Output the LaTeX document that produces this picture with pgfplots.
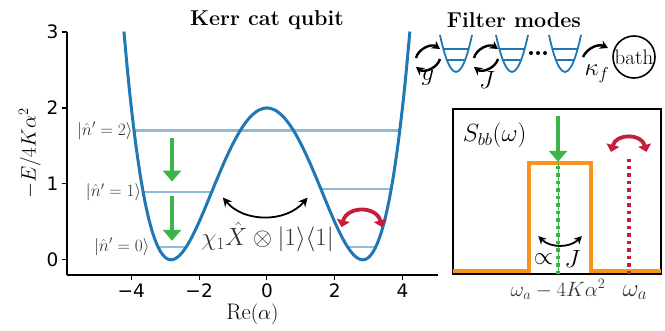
\documentclass[border=0pt]{standalone}
\usepackage{pgfplots}
\pgfplotsset{compat=1.18}
\usepackage{fontspec}
\usepackage{amsmath}
\usetikzlibrary{arrows.meta}
\newfontfamily\dejavu{DejaVu Sans}
\definecolor{cblue}{HTML}{1F77B4}
\definecolor{lblue}{HTML}{8FBBD9}
\definecolor{cgreen}{HTML}{3CB44B}
\definecolor{cred}{HTML}{C41E3A}
\definecolor{corange}{HTML}{F7941D}
\definecolor{lgray}{HTML}{333333}
\begin{document}
\begin{tikzpicture}[x=1pt,y=1pt]
\path (0,0) rectangle (665,330);
% ---------------- main axis ----------------
\begin{axis}[at={(67pt,55pt)}, anchor=south west, scale only axis,
  width=371pt, height=243pt,
  xmin=-5.9, xmax=5.05, ymin=-0.2, ymax=3,
  axis x line*=bottom, axis y line*=left,
  axis line style={line width=1.4pt, -},
  xtick={-4,-2,0,2,4}, xticklabels={−4,−2,0,2,4},
  ytick={0,1,2,3}, yticklabels={0,1,2,3},
  tick style={black, line width=1.2pt}, tick align=outside, major tick length=5pt,
  ticklabel style={font=\dejavu\fontsize{18.5}{22}\selectfont},
  xlabel={$\mathrm{Re}(\alpha)$}, ylabel={$-E/4K\alpha^2$},
  label style={font=\fontsize{22.5}{26}\selectfont},
  xlabel style={yshift=0pt}, ylabel style={yshift=-1pt},
  clip=false]
\addplot[lblue, line width=2.5pt] coordinates {(-3.921,1.70) (3.921,1.70)};
\addplot[lblue, line width=2.5pt] coordinates {(-3.647,0.89) (-1.636,0.89)};
\addplot[lblue, line width=2.5pt] coordinates {(1.595,0.93) (3.66,0.93)};
\addplot[lblue, line width=2.5pt] coordinates {(-3.214,0.17) (-2.381,0.17)};
\addplot[lblue, line width=2.5pt] coordinates {(2.381,0.17) (3.214,0.17)};
\addplot[cblue, line width=3pt, smooth] coordinates {
(-4.22,3.006) (-4.1,2.4255) (-4.0,2.0) (-3.875,1.5381) (-3.75,1.1486) (-3.625,0.8258)
(-3.5,0.5645) (-3.375,0.3593) (-3.25,0.2052) (-3.125,0.0974) (-3.0,0.0313) (-2.9,0.0053)
(-2.828,0) (-2.75,0.0060) (-2.625,0.0385) (-2.5,0.0957) (-2.375,0.1740) (-2.25,0.2697)
(-2.125,0.3794) (-2.0,0.5) (-1.875,0.6284) (-1.75,0.7618) (-1.5,1.0332) (-1.25,1.2950)
(-1.0,1.5313) (-0.75,1.7286) (-0.5,1.8770) (-0.25,1.9689) (0,2)
(0.25,1.9689) (0.5,1.8770) (0.75,1.7286) (1.0,1.5313) (1.25,1.2950) (1.5,1.0332)
(1.75,0.7618) (1.875,0.6284) (2.0,0.5) (2.125,0.3794) (2.25,0.2697) (2.375,0.1740)
(2.5,0.0957) (2.625,0.0385) (2.75,0.0060) (2.828,0) (2.9,0.0053) (3.0,0.0313)
(3.125,0.0974) (3.25,0.2052) (3.375,0.3593) (3.5,0.5645) (3.625,0.8258) (3.75,1.1486)
(3.875,1.5381) (4.0,2.0) (4.1,2.4255) (4.22,3.006)};
% level labels
\node[anchor=east, text=lgray, font=\fontsize{18.5}{22}\selectfont, inner sep=1pt] at (axis cs:-3.93,1.70) {$|\hat n'=2\rangle$};
\node[anchor=east, text=lgray, font=\fontsize{18.5}{22}\selectfont, inner sep=1pt] at (axis cs:-3.67,0.89) {$|\hat n'=1\rangle$};
\node[anchor=east, text=lgray, font=\fontsize{18.5}{22}\selectfont, inner sep=1pt] at (axis cs:-3.43,0.17) {$|\hat n'=0\rangle$};
% green arrows
\draw[cgreen, line width=3.2pt, -{Triangle[width=18pt,length=11pt]}] (axis cs:-2.8,1.6) -- (axis cs:-2.8,1.03);
\draw[cgreen, line width=3.2pt, -{Triangle[width=18pt,length=11pt]}] (axis cs:-2.8,0.84) -- (axis cs:-2.8,0.25);
% black tunnelling arrow
\draw[black, line width=1.8pt, {Stealth[length=9pt,width=9pt]}-{Stealth[length=9pt,width=9pt]}] (axis cs:-1.3,0.82) to[bend right=50] (axis cs:1.2,0.82);
\node[text=lgray, font=\fontsize{25}{28}\selectfont] at (axis cs:0.02,0.3) {$\chi_1\hat X\otimes|1\rangle\langle1|$};
% red arrow
\draw[cred, line width=3.8pt, {Triangle[width=13pt,length=7pt]}-{Triangle[width=13pt,length=7pt]}] (axis cs:2.2,0.43) to[out=75,in=105,looseness=1.4] (axis cs:3.4,0.43);
\end{axis}
\node[font=\bfseries\fontsize{21.5}{24}\selectfont] at (267,310) {Kerr cat qubit};
% ---------------- filter schematic ----------------
\node[font=\bfseries\fontsize{21.5}{24}\selectfont] at (514,310) {Filter modes};
\foreach \c in {456,512,565}{
  \draw[cblue, line width=1.8pt] (\c-16,295) parabola bend (\c,258) (\c+16,295);
  \draw[cblue, line width=1.4pt] (\c-12.5,281) -- (\c+12.5,281);
  \draw[cblue, line width=1.4pt] (\c-9,270) -- (\c+9,270);
}
\foreach \c in {428,486}{
  \draw[line width=2.4pt, -{Stealth[length=8pt,width=9pt]}] (\c-12,272) to[bend left=55] (\c+12,281);
  \draw[line width=2.4pt, -{Stealth[length=8pt,width=9pt]}] (\c+12,271) to[bend left=55] (\c-12,263);
}
\foreach \d in {531,538,545}{ \fill (\d,277) circle (2); }
\draw[line width=2.4pt, -{Stealth[length=8pt,width=9pt]}] (583,273) to[bend left=45] (608,282);
\node[font=\fontsize{26}{28}\selectfont] at (428,252) {$g$};
\node[font=\fontsize{26}{28}\selectfont] at (487,250) {$J$};
\node[font=\fontsize{26}{28}\selectfont] at (597,256) {$\kappa_f$};
\draw[line width=1.6pt] (634,273) circle (21);
\node[font=\fontsize{21}{24}\selectfont] at (634,273) {bath};
% ---------------- inset ----------------
\begin{axis}[at={(453pt,56pt)}, anchor=south west, scale only axis,
  width=208pt, height=165pt,
  xmin=0, xmax=1, ymin=0, ymax=1,
  axis line style={line width=1.4pt},
  ytick=\empty, xtick={0.505,0.846},
  xticklabels={{\fontsize{19.5}{22}\selectfont$\omega_a-4K\alpha^2$},{\hspace*{12pt}\fontsize{26}{28}\selectfont$\omega_a$}},
  major tick length=0pt,
  xticklabel style={text=lgray, anchor=base, yshift=-22pt},
  clip=false]
\addplot[corange, line width=4pt] coordinates {(0,0.02) (0.365,0.02) (0.365,0.67) (0.663,0.67) (0.663,0.02) (1,0.02)};
\addplot[cgreen, line width=1pt] coordinates {(0.505,0) (0.505,0.67)};
\addplot[cgreen, line width=3.5pt, dash pattern=on 3.5pt off 4pt] coordinates {(0.505,0) (0.505,0.67)};
\addplot[cred, line width=3.5pt, dash pattern=on 3.5pt off 4pt] coordinates {(0.846,0) (0.846,0.70)};
\draw[cgreen, line width=3.2pt, -{Triangle[width=18pt,length=11pt]}] (axis cs:0.505,0.96) -- (axis cs:0.505,0.68);
\draw[cred, line width=3.8pt, {Triangle[width=13pt,length=7pt]}-{Triangle[width=13pt,length=7pt]}] (axis cs:0.76,0.74) to[out=75,in=105,looseness=1.4] (axis cs:0.93,0.74);
\draw[black, line width=1.8pt, {Stealth[length=8pt,width=8pt]}-{Stealth[length=8pt,width=8pt]}] (axis cs:0.41,0.23) to[bend right=45] (axis cs:0.62,0.23);
\node[font=\fontsize{25}{28}\selectfont] at (axis cs:0.435,0.09) {$\propto$};
\node[font=\fontsize{25}{28}\selectfont] at (axis cs:0.575,0.09) {$J$};
\node[font=\fontsize{27}{30}\selectfont] at (axis cs:0.2,0.84) {$S_{bb}(\omega)$};
\end{axis}
\end{tikzpicture}
\end{document}
